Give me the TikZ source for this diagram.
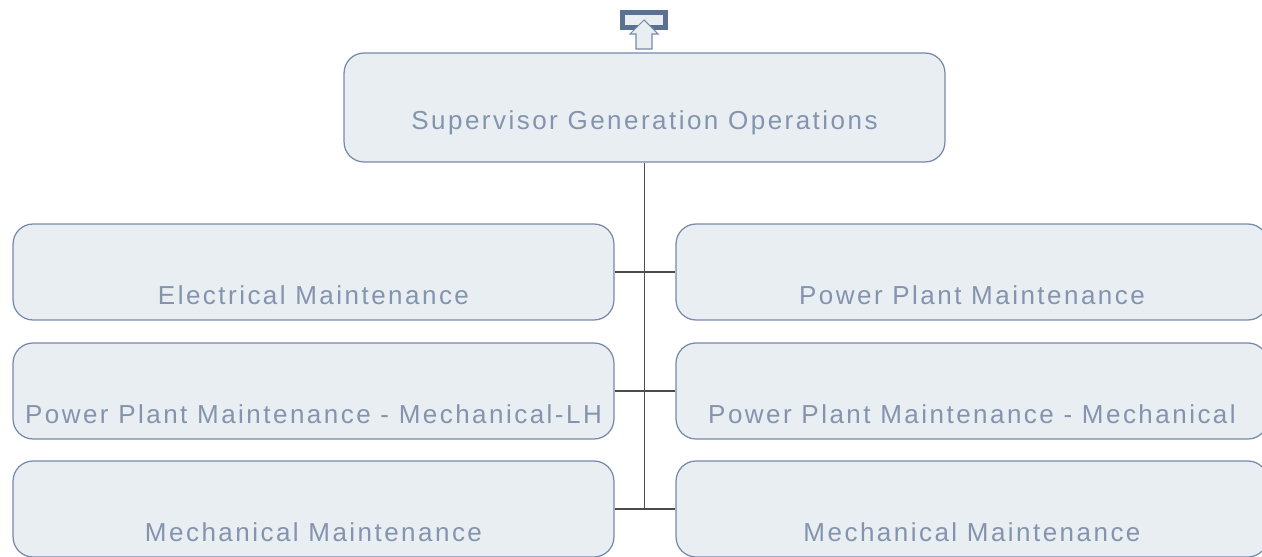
\documentclass[tikz,border=0pt]{standalone}
\usepackage{fontspec}
\setmainfont{Liberation Sans}[LetterSpace=9.5]
\definecolor{boxfill}{HTML}{E8EEF2}
\definecolor{boxline}{HTML}{7689AA}
\definecolor{boxtext}{HTML}{8494AE}
\definecolor{iconline}{HTML}{5C7190}

\begin{document}
\begin{tikzpicture}[x=0.02cm, y=-0.02cm,
        unit/.style={draw=boxline, fill=boxfill, rounded corners=0.4cm, text=boxtext,
            font=\fontsize{14.8}{16}\selectfont, minimum width=12.02cm, minimum height=1.92cm,
            text height=1.3cm, text depth=0pt, inner sep=0pt, line width=0.7pt},
        link/.style={draw=black!70, line width=0.6pt}]
    \useasboundingbox (0,0) rectangle (1262,557);
    % up icon
    \node [draw=iconline, line width=2.5pt, fill=boxfill, minimum width=0.86cm, minimum height=0.3cm, inner sep=0pt] (up) at (644,20) {};
    \draw [draw=boxline, fill=boxfill, line width=0.6pt] (636,49) -- (636,34) -- (630,34) -- (644,20) -- (658,34) -- (652,34) -- (652,49) -- cycle;
    % boxes
    \node [unit, minimum height=2.18cm, text height=0.9cm] (sgo) at (644.5,107.5) {Supervisor Generation Operations};
    \node [unit] (em) at (313.5,272) {Electrical Maintenance};
    \node [unit, minimum width=11.84cm] (ppm) at (972,272) {Power Plant Maintenance};
    \node [unit] (ppmlh) at (313.5,391) {Power Plant Maintenance - Mechanical-LH};
    \node [unit, minimum width=11.84cm] (ppmm) at (972,391) {Power Plant Maintenance - Mechanical};
    \node [unit] (mm1) at (313.5,509) {Mechanical Maintenance};
    \node [unit, minimum width=11.84cm] (mm2) at (972,509) {Mechanical Maintenance};
    % lines
    \coordinate (bus) at (sgo.south |- mm1.east);
    \draw [link] (sgo.south) -- (bus);
    \draw [link] (em.east) -- (ppm.west);
    \draw [link] (ppmlh.east) -- (ppmm.west);
    \draw [link] (mm1.east) -- (mm2.west);
\end{tikzpicture}
\end{document}
